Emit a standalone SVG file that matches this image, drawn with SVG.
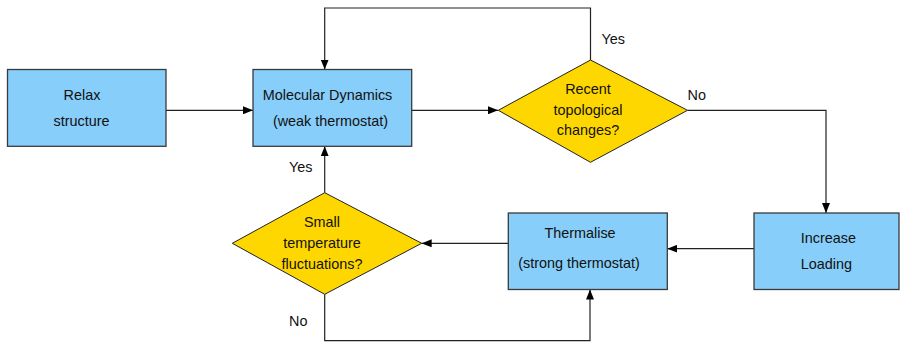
<svg xmlns="http://www.w3.org/2000/svg" width="901" height="343" viewBox="0 0 901 343">
<style>
.box{fill:#87CEFA;stroke:#3a3a3a;stroke-width:1.3}
.dia{fill:#FFD700;stroke:#222;stroke-width:1}
.t{font-family:"Liberation Sans",Arial,sans-serif;font-size:14.4px;fill:#111;text-anchor:middle}
.l{font-family:"Liberation Sans",Arial,sans-serif;font-size:14.4px;fill:#111}
.c{fill:none;stroke:#222;stroke-width:1.2}
</style>
<defs>
<marker id="ah" viewBox="0 0 10 8" refX="10" refY="4" markerWidth="10" markerHeight="8" markerUnits="userSpaceOnUse" orient="auto">
<path d="M0,0 L10,4 L0,8 Z" fill="#000"/>
</marker>
</defs>
<g id="connectors">
<path class="c" d="M166,110.3 H253" marker-end="url(#ah)"/>
<path class="c" d="M411.7,110.3 H498" marker-end="url(#ah)"/>
<path class="c" d="M590.5,60 V8 H324.7 V69.5" marker-end="url(#ah)"/>
<path class="c" d="M687.5,110.3 H826 V213" marker-end="url(#ah)"/>
<path class="c" d="M754,248.7 H667.3" marker-end="url(#ah)"/>
<path class="c" d="M508.3,243.3 H421.7" marker-end="url(#ah)"/>
<path class="c" d="M324.7,192.7 V146.3" marker-end="url(#ah)"/>
<path class="c" d="M324.7,294.3 V340.7 H590 V289.5" marker-end="url(#ah)"/>
<text class="l" x="601.5" y="43.5">Yes</text>
<text class="l" x="687.5" y="99.5">No</text>
<text class="l" x="289" y="172">Yes</text>
<text class="l" x="289" y="326">No</text>
</g>
<g id="relax">
<rect class="box" x="7.5" y="69.5" width="158.5" height="76.8"/>
<text class="t" x="82" y="100">Relax</text>
<text class="t" x="81.5" y="125.7">structure</text>
</g>
<g id="md">
<rect class="box" x="253" y="69.5" width="158.7" height="76.8"/>
<text class="t" x="327.5" y="100">Molecular Dynamics</text>
<text class="t" x="330.5" y="125.7">(weak thermostat)</text>
</g>
<g id="recent">
<polygon class="dia" points="590.5,60 687.5,110.3 590.5,162.3 498.3,110.3"/>
<text class="t" x="588" y="94.3">Recent</text>
<text class="t" x="588" y="115">topological</text>
<text class="t" x="588" y="135">changes?</text>
</g>
<g id="increase">
<rect class="box" x="754" y="213" width="145" height="76.5"/>
<text class="l" x="800.7" y="243.3">Increase</text>
<text class="l" x="800.7" y="268.5">Loading</text>
</g>
<g id="thermalise">
<rect class="box" x="508.3" y="213" width="159" height="76.5"/>
<text class="t" x="580" y="238.3">Thermalise</text>
<text class="t" x="579" y="268">(strong thermostat)</text>
</g>
<g id="small">
<polygon class="dia" points="324.7,192.7 421.7,243.3 324.7,294.3 232.3,243.3"/>
<text class="t" x="322" y="227.3">Small</text>
<text class="t" x="322" y="248.3">temperature</text>
<text class="t" x="322" y="269">fluctuations?</text>
</g>
</svg>
